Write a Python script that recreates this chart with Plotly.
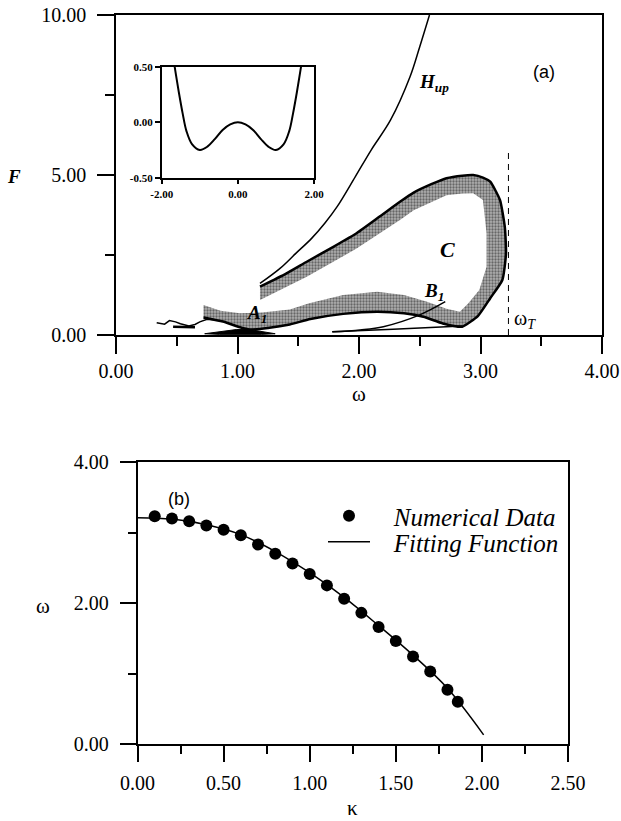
import plotly.graph_objects as go

W, H = 621, 821

# ---------------- panel (a) data (omega, F) ----------------
hup_w = [1.185, 1.35, 1.48, 1.61, 1.72, 1.82, 1.97, 2.10, 2.26, 2.42, 2.50, 2.58]
hup_F = [1.61, 2.08, 2.55, 3.02, 3.50, 4.01, 4.95, 5.78, 6.72, 8.07, 9.01, 10.0]

# outer (black) edge of region C, from the upper-left end round to the lower-left end
c_outer_w = [1.185, 1.40, 1.57, 1.80, 1.98, 2.17, 2.34, 2.45, 2.60, 2.72, 2.85, 2.94, 3.02, 3.08,
             3.16, 3.20, 3.21, 3.18, 3.08, 2.98, 2.85, 2.69, 2.53, 2.37, 2.15, 1.87, 1.60, 1.43,
             1.25, 1.10, 1.02, 0.88, 0.72]
c_outer_F = [1.51, 1.92, 2.29, 2.78, 3.18, 3.70, 4.17, 4.45, 4.72, 4.90, 4.98, 5.00, 4.92, 4.79,
             4.22, 3.38, 2.55, 1.72, 1.15, 0.60, 0.26, 0.36, 0.57, 0.68, 0.73, 0.66, 0.50, 0.33,
             0.22, 0.17, 0.24, 0.42, 0.55]
# inner edge of the shaded band, from the lower-left end back to the upper-left end
c_inner_w = [0.72, 0.86, 1.02, 1.20, 1.43, 1.59, 1.87, 2.15, 2.37, 2.56, 2.72, 2.83, 2.90, 2.99,
             3.05, 3.05, 3.02, 2.94, 2.85, 2.72, 2.45, 2.34, 2.17, 1.98, 1.57, 1.185]
c_inner_F = [0.94, 0.76, 0.68, 0.70, 0.80, 0.99, 1.25, 1.35, 1.25, 1.04, 0.82, 0.73, 0.99, 1.41,
             2.13, 3.18, 4.22, 4.43, 4.42, 4.37, 3.90, 3.60, 3.18, 2.70, 1.82, 1.09]

lens_w = [0.73, 0.85, 0.99, 1.10, 1.20, 1.31, 1.20, 1.00, 0.85, 0.73]
lens_F = [0.04, 0.10, 0.17, 0.17, 0.11, 0.04, 0.02, 0.01, 0.02, 0.04]

wig_w = [0.335, 0.40, 0.44, 0.49, 0.53, 0.60, 0.65, 0.69, 0.75, 0.83]
wig_F = [0.385, 0.34, 0.45, 0.41, 0.35, 0.28, 0.33, 0.41, 0.49, 0.47]
wig2_w = [0.47, 0.56, 0.65]
wig2_F = [0.26, 0.25, 0.24]

low_w = [1.78, 2.28, 2.85]
low_F = [0.10, 0.18, 0.28]
b1_w = [1.78, 2.01, 2.20, 2.50, 2.71]
b1_F = [0.10, 0.16, 0.26, 0.63, 1.04]

omega_T = 3.23
omegaT_F = [0.0, 5.73]

# inset: double-well potential
pot_x = [-1.66, -1.55, -1.45, -1.35, -1.20, -1.00, -0.80, -0.60, -0.40, -0.20, 0.00,
         0.20, 0.40, 0.60, 0.80, 1.00, 1.20, 1.35, 1.45, 1.55, 1.66]
pot_V = [0.50, 0.27, 0.08, -0.08, -0.20, -0.25, -0.22, -0.15, -0.07, -0.02, 0.00,
         -0.02, -0.07, -0.15, -0.22, -0.25, -0.20, -0.08, 0.08, 0.27, 0.50]

# ---------------- panel (b) data (kappa, omega) ----------------
kappa_pts = [0.10, 0.20, 0.30, 0.40, 0.50, 0.60, 0.70, 0.80, 0.90, 1.00, 1.10, 1.20, 1.30,
             1.40, 1.50, 1.60, 1.70, 1.80, 1.86]
omega_pts = [3.23, 3.20, 3.16, 3.10, 3.04, 2.96, 2.83, 2.70, 2.56, 2.41, 2.25, 2.06, 1.86,
             1.66, 1.46, 1.24, 1.03, 0.77, 0.60]
fit_k = [0.0, 0.2, 0.4, 0.6, 0.8, 1.0, 1.2, 1.4, 1.6, 1.8, 2.01]
fit_w = [3.21, 3.19, 3.11, 2.97, 2.73, 2.43, 2.08, 1.68, 1.26, 0.79, 0.13]

SERIF = "Liberation Serif, Times New Roman, Times, serif"
SANS = "Liberation Sans, Arial, sans-serif"
NB = "\u00a0"


def px_x(p):
    return p / W


def px_y(p):
    return 1 - p / H


fig = go.Figure()

# shaded band of region C
fig.add_trace(go.Scatter(x=c_outer_w + c_inner_w, y=c_outer_F + c_inner_F, mode="lines",
                         fill="toself", fillcolor="#a0a0a0", line=dict(width=0),
                         fillpattern=dict(shape=".", fgcolor="#666666", bgcolor="#b0b0b0",
                                          size=3, solidity=0.45),
                         xaxis="x", yaxis="y", showlegend=False, hoverinfo="skip"))
fig.add_trace(go.Scatter(x=c_outer_w, y=c_outer_F, mode="lines",
                         line=dict(color="black", width=2.5, shape="spline", smoothing=0.5),
                         xaxis="x", yaxis="y", showlegend=False))
fig.add_trace(go.Scatter(x=hup_w, y=hup_F, mode="lines", line=dict(color="black", width=1.5, shape="spline"),
                         xaxis="x", yaxis="y", showlegend=False))
fig.add_trace(go.Scatter(x=lens_w, y=lens_F, mode="lines", fill="toself", fillcolor="black",
                         line=dict(color="black", width=1), xaxis="x", yaxis="y", showlegend=False))
fig.add_trace(go.Scatter(x=wig_w, y=wig_F, mode="lines", line=dict(color="black", width=1.5),
                         xaxis="x", yaxis="y", showlegend=False))
fig.add_trace(go.Scatter(x=wig2_w, y=wig2_F, mode="lines", line=dict(color="black", width=2.5),
                         xaxis="x", yaxis="y", showlegend=False))
fig.add_trace(go.Scatter(x=low_w, y=low_F, mode="lines", line=dict(color="black", width=1.5, shape="spline"),
                         xaxis="x", yaxis="y", showlegend=False))
fig.add_trace(go.Scatter(x=b1_w, y=b1_F, mode="lines", line=dict(color="black", width=1.5, shape="spline"),
                         xaxis="x", yaxis="y", showlegend=False))
fig.add_trace(go.Scatter(x=[omega_T, omega_T], y=omegaT_F, mode="lines",
                         line=dict(color="black", width=1, dash="6px,5px"),
                         xaxis="x", yaxis="y", showlegend=False))

# inset
fig.add_trace(go.Scatter(x=pot_x, y=pot_V, mode="lines", line=dict(color="black", width=2, shape="spline"),
                         xaxis="x3", yaxis="y3", showlegend=False))

# panel (b)
fig.add_trace(go.Scatter(x=kappa_pts, y=omega_pts, mode="markers", name=NB * 3 + "Numerical Data",
                         marker=dict(color="black", size=12), xaxis="x2", yaxis="y2", legend="legend"))
fig.add_trace(go.Scatter(x=fit_k, y=fit_w, mode="lines", name=NB * 3 + "Fitting Function",
                         line=dict(color="black", width=1.5, shape="spline"), xaxis="x2", yaxis="y2",
                         legend="legend2"))

tickfont = dict(family=SERIF, size=20, color="black")
common = dict(showgrid=False, zeroline=False, showline=True, linecolor="black", linewidth=1.5,
              mirror=True, ticks="outside", tickcolor="black", tickwidth=1.5,
              tickfont=tickfont, tickformat=".2f", automargin=False)
minor_style = dict(ticks="outside", tickcolor="black", tickwidth=1.5)

legfont = dict(family=SERIF, size=25, color="black", style="italic")

fig.update_layout(
    template="none",
    width=W, height=H, margin=dict(l=0, r=0, t=0, b=0, autoexpand=False),
    paper_bgcolor="white", plot_bgcolor="white",
    xaxis=dict(domain=[px_x(116), px_x(602)], range=[0, 4], tickmode="linear", tick0=0, dtick=1,
               ticklen=17, ticklabelstandoff=0, minor=dict(dtick=0.5, ticklen=9, **minor_style),
               anchor="y", **common),
    yaxis=dict(domain=[px_y(335), px_y(15)], range=[0, 10], tickmode="linear", tick0=0, dtick=5,
               ticklen=17, ticklabelstandoff=7, minor=dict(dtick=2.5, ticklen=9, **minor_style),
               anchor="x", **common),
    xaxis2=dict(domain=[px_x(137.5), px_x(568)], range=[0, 2.5], tickmode="linear", tick0=0, dtick=0.5,
                ticklen=16, ticklabelstandoff=4, minor=dict(dtick=0.25, ticklen=8, **minor_style),
                anchor="y2", **common),
    yaxis2=dict(domain=[px_y(744), px_y(462)], range=[0, 4], tickmode="linear", tick0=0, dtick=2,
                ticklen=16, ticklabelstandoff=7, minor=dict(dtick=1, ticklen=8, **minor_style),
                anchor="x2", **common),
    xaxis3=dict(domain=[px_x(161.7), px_x(314)], range=[-2, 2], tickvals=[-2, 0, 2],
                ticktext=["-2.00", "0.00", "2.00"], showgrid=False, zeroline=False, showline=True,
                linecolor="black", linewidth=1.5, mirror=True, ticks="outside", ticklen=5,
                tickcolor="black", tickwidth=1.5, anchor="y3", automargin=False,
                tickfont=dict(family=SERIF, size=11, color="black", weight="bold")),
    yaxis3=dict(domain=[px_y(177.7), px_y(66.7)], range=[-0.5, 0.5], tickvals=[-0.5, 0, 0.5],
                ticktext=["-0.50", "0.00", "0.50"], showgrid=False, zeroline=False, showline=True,
                linecolor="black", linewidth=1.5, mirror=True, ticks="outside", ticklen=5,
                tickcolor="black", tickwidth=1.5, anchor="x3", automargin=False,
                tickfont=dict(family=SERIF, size=11, color="black", weight="bold")),
    showlegend=True,
    legend=dict(x=px_x(323), y=px_y(493), xanchor="left", yanchor="top", bgcolor="rgba(0,0,0,0)",
                itemwidth=42, font=legfont),
    legend2=dict(x=px_x(323), y=px_y(519), xanchor="left", yanchor="top", bgcolor="rgba(0,0,0,0)",
                 itemwidth=42, font=legfont),
)

bi = dict(family=SERIF, color="black", weight="bold", style="italic")
ann = [
    dict(x=2.475, y=7.86, xref="x", yref="y", text="H<sub>up</sub>", xanchor="left", yanchor="middle",
         font=dict(size=19, **bi)),
    dict(x=3.52, y=8.23, xref="x", yref="y", text="(a)", xanchor="center", yanchor="middle",
         font=dict(family=SANS, size=18, color="black")),
    dict(x=2.73, y=2.66, xref="x", yref="y", text="C", xanchor="center", yanchor="middle",
         font=dict(size=22, **bi)),
    dict(x=2.516, y=1.34, xref="x", yref="y", text="B<sub>1</sub>", xanchor="left", yanchor="middle",
         font=dict(size=19, **bi)),
    dict(x=1.06, y=0.66, xref="x", yref="y", text="A<sub>1</sub>", xanchor="left", yanchor="middle",
         font=dict(size=19, **bi)),
    dict(x=3.257, y=0.47, xref="x", yref="y", text="ω<sub><i>T</i></sub>", xanchor="left", yanchor="middle",
         font=dict(family=SERIF, size=20, color="black")),
    dict(x=px_x(14), y=px_y(176), xref="paper", yref="paper", text="F", xanchor="center", yanchor="middle",
         font=dict(size=19, **bi)),
    dict(x=px_x(359), y=px_y(394), xref="paper", yref="paper", text="ω", xanchor="center", yanchor="middle",
         font=dict(family=SERIF, size=21, color="black")),
    dict(x=px_x(179), y=px_y(499), xref="paper", yref="paper", text="(b)", xanchor="center", yanchor="middle",
         font=dict(family=SANS, size=18, color="black")),
    dict(x=px_x(43), y=px_y(606), xref="paper", yref="paper", text="ω", xanchor="center", yanchor="middle",
         font=dict(family=SERIF, size=21, color="black")),
    dict(x=px_x(352), y=px_y(808), xref="paper", yref="paper", text="κ", xanchor="center", yanchor="middle",
         font=dict(family=SERIF, size=21, color="black")),
]
for a in ann:
    a["showarrow"] = False
fig.update_layout(annotations=ann)

fig.write_html("out.html")
